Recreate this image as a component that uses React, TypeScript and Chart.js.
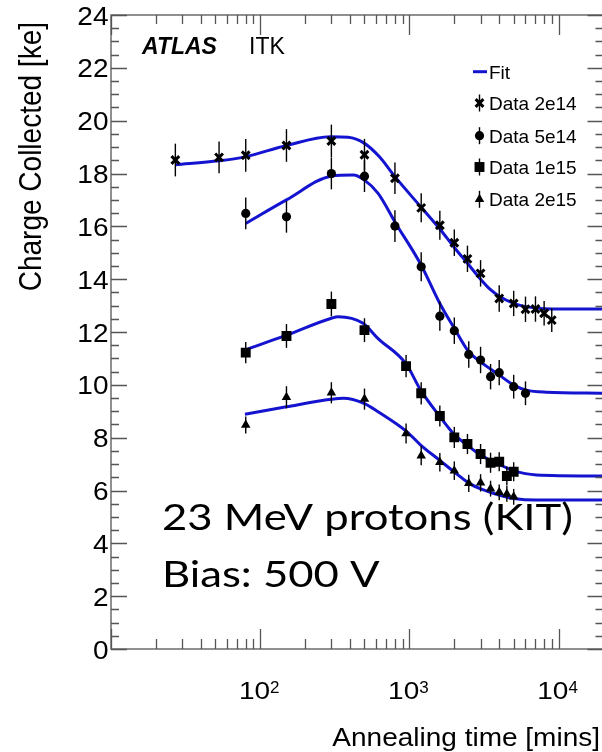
import React, { useEffect, useRef } from "react";
import { Chart, registerables } from "chart.js";

Chart.register(...registerables);

// ---- axis ranges & ticks ----
const X_MIN = 10;
const X_MAX = 20000;
const Y_MIN = 0;
const Y_MAX = 24;
const yTickLabels = [0, 2, 4, 6, 8, 10, 12, 14, 16, 18, 20, 22, 24];
const xTickValues = [100, 1000, 10000];
const xTickExponents = ["2", "3", "4"];
const xTitle = "Annealing time [mins]";
const yTitle = "Charge Collected [ke]";
const legendLabels = ["Fit", "Data 2e14", "Data 5e14", "Data 1e15", "Data 2e15"];
const noteLines = ["23 MeV protons (KIT)", "Bias: 500 V"];

// ---- data: 2e14 ----
const t2e14 = [27, 53, 80, 150, 300, 500, 800, 1200, 1600, 2000, 2450, 3000, 4000, 5000, 6000, 7000, 8000, 9000];
const q2e14 = [18.51, 18.61, 18.69, 19.06, 19.23, 18.71, 17.82, 16.7, 16.04, 15.38, 14.77, 14.22, 13.27, 13.08, 12.86, 12.87, 12.71, 12.45];
const e2e14 = [0.62, 0.6, 0.62, 0.62, 0.62, 0.6, 0.6, 0.55, 0.55, 0.5, 0.5, 0.5, 0.5, 0.48, 0.48, 0.48, 0.46, 0.45];

// ---- data: 5e14 ----
const t5e14 = [80, 150, 300, 500, 800, 1200, 1600, 2000, 2500, 3000, 3500, 4000, 5000, 6000];
const q5e14 = [16.49, 16.36, 18.0, 17.9, 16.01, 14.47, 12.6, 12.05, 11.15, 10.94, 10.31, 10.46, 9.93, 9.68];
const e5e14 = [0.6, 0.6, 0.6, 0.6, 0.6, 0.55, 0.55, 0.5, 0.5, 0.5, 0.48, 0.48, 0.45, 0.45];

// ---- data: 1e15 ----
const t1e15 = [80, 150, 300, 500, 950, 1200, 1600, 2000, 2450, 3000, 3500, 4000, 4500, 5000];
const q1e15 = [11.22, 11.85, 13.06, 12.07, 10.71, 9.68, 8.82, 8.01, 7.76, 7.38, 7.05, 7.09, 6.55, 6.71];
const e1e15 = [0.4, 0.45, 0.47, 0.45, 0.42, 0.42, 0.4, 0.4, 0.38, 0.38, 0.38, 0.36, 0.36, 0.36];

// ---- data: 2e15 ----
const t2e15 = [80, 150, 300, 500, 950, 1200, 1600, 2000, 2500, 3000, 3500, 4000, 4500, 5000];
const q2e15 = [8.48, 9.53, 9.7, 9.46, 8.16, 7.32, 7.07, 6.75, 6.27, 6.29, 6.07, 5.93, 5.87, 5.76];
const e2e15 = [0.32, 0.42, 0.4, 0.4, 0.38, 0.36, 0.35, 0.35, 0.33, 0.33, 0.3, 0.3, 0.3, 0.3];

// ---- fit curves ----
const fit2e14X = [27, 53, 79, 148, 295, 388, 500, 630, 800, 1200, 1600, 2000, 2450, 3000, 3500, 4000, 5000, 6000, 9000, 20000];
const fit2e14Y = [18.33, 18.48, 18.63, 19.05, 19.39, 19.37, 19.14, 18.63, 17.88, 16.72, 15.9, 15.2, 14.6, 14.0, 13.6, 13.35, 13.08, 12.96, 12.87, 12.87];

const fit5e14X = [80, 150, 300, 420, 500, 617, 811, 1200, 1600, 2000, 2500, 3000, 4000, 5000, 6100, 8300, 20000];
const fit5e14Y = [16.11, 17.0, 17.9, 17.94, 17.75, 17.25, 16.11, 14.53, 13.08, 12.14, 11.25, 10.87, 10.37, 9.99, 9.8, 9.72, 9.68];

const fit1e15X = [79, 150, 300, 333, 489, 617, 945, 1190, 1570, 1970, 2440, 3000, 3950, 5000, 7100, 20000];
const fit1e15Y = [11.32, 11.88, 12.52, 12.58, 12.33, 11.75, 10.81, 9.8, 8.86, 8.16, 7.72, 7.34, 7.0, 6.75, 6.59, 6.55];

const fit2e15X = [79, 150, 300, 361, 496, 617, 960, 1190, 1590, 1990, 2520, 3070, 3990, 5000, 7100, 20000];
const fit2e15Y = [8.89, 9.17, 9.45, 9.49, 9.3, 8.98, 8.23, 7.72, 7.15, 6.71, 6.27, 6.04, 5.83, 5.7, 5.64, 5.64];

const FIT_COLOR = "#1414d0";
const FRAME_COLOR = "#555555";
const FONT = '"Liberation Sans", Arial, sans-serif';

const pts = (xs: number[], ys: number[]) => xs.map((x, i) => ({ x, y: ys[i] }));

function drawText(
  ctx: CanvasRenderingContext2D,
  s: string,
  x: number,
  y: number,
  font: string,
  align: CanvasTextAlign,
  sx = 1,
  sy = 1,
  rot = 0
) {
  ctx.save();
  ctx.translate(x, y);
  if (rot) ctx.rotate(rot);
  ctx.scale(sx, sy);
  ctx.font = font;
  ctx.textAlign = align;
  ctx.textBaseline = "alphabetic";
  ctx.fillStyle = "#000";
  ctx.fillText(s, 0, 0);
  ctx.restore();
}

function drawMarker(ctx: CanvasRenderingContext2D, style: string, x: number, y: number, r: number) {
  ctx.save();
  ctx.fillStyle = "#000";
  ctx.strokeStyle = "#000";
  ctx.beginPath();
  if (style === "crossRot") {
    const d = r * Math.SQRT1_2;
    ctx.lineWidth = 3;
    ctx.moveTo(x - d, y - d);
    ctx.lineTo(x + d, y + d);
    ctx.moveTo(x + d, y - d);
    ctx.lineTo(x - d, y + d);
    ctx.stroke();
  } else if (style === "circle") {
    ctx.arc(x, y, r, 0, Math.PI * 2);
    ctx.fill();
  } else if (style === "rect") {
    const s = r * Math.SQRT1_2;
    ctx.fillRect(x - s, y - s, 2 * s, 2 * s);
  } else if (style === "triangle") {
    ctx.moveTo(x, y - r);
    ctx.lineTo(x + r * Math.sin(Math.PI * 2 / 3), y - r * Math.cos(Math.PI * 2 / 3));
    ctx.lineTo(x + r * Math.sin(Math.PI * 4 / 3), y - r * Math.cos(Math.PI * 4 / 3));
    ctx.closePath();
    ctx.fill();
  }
  ctx.restore();
}

const decorPlugin = {
  id: "rootDecor",
  beforeDatasetDraw(chart: any, args: any) {
    const ds = chart.data.datasets[args.index];
    if (!ds.errors) return;
    const ctx = chart.ctx;
    const xs = chart.scales.x;
    const ys = chart.scales.y;
    ctx.save();
    ctx.strokeStyle = "#000";
    ctx.lineWidth = 1.4;
    ds.data.forEach((p: any, i: number) => {
      const px = xs.getPixelForValue(p.x);
      const e = ds.errors[i];
      ctx.beginPath();
      ctx.moveTo(px, ys.getPixelForValue(p.y - e));
      ctx.lineTo(px, ys.getPixelForValue(p.y + e));
      ctx.stroke();
    });
    ctx.restore();
  },
  afterDraw(chart: any) {
    const ctx: CanvasRenderingContext2D = chart.ctx;
    const { left, right, top, bottom } = chart.chartArea;
    const xs = chart.scales.x;
    const ys = chart.scales.y;

    // frame
    ctx.save();
    ctx.strokeStyle = FRAME_COLOR;
    ctx.lineWidth = 1.3;
    ctx.strokeRect(left, top, right - left, bottom - top);

    // y ticks
    ctx.beginPath();
    for (let v = Y_MIN; v <= Y_MAX + 1e-9; v += 0.5) {
      const py = Math.round(ys.getPixelForValue(v)) + 0.5;
      const major = Math.abs(v / 2 - Math.round(v / 2)) < 1e-6;
      const len = major ? 16 : 8;
      ctx.moveTo(left, py);
      ctx.lineTo(left + len, py);
      ctx.moveTo(right, py);
      ctx.lineTo(right - len, py);
    }
    // x ticks (log)
    for (let dec = 10; dec <= 10000; dec *= 10) {
      for (let k = 1; k <= 9; k++) {
        const v = k * dec;
        if (v < X_MIN || v > X_MAX) continue;
        const px = Math.round(xs.getPixelForValue(v)) + 0.5;
        const major = k === 1;
        ctx.moveTo(px, bottom);
        ctx.lineTo(px, bottom - (major ? 20 : 10));
        ctx.moveTo(px, top);
        ctx.lineTo(px, top + (major ? 20 : 9));
      }
    }
    ctx.stroke();
    ctx.restore();

    // y tick labels
    const fLab = `28px ${FONT}`;
    yTickLabels.forEach((v) => {
      const py = ys.getPixelForValue(v);
      drawText(ctx, String(v), 108.5, py + 9.5, fLab, "right", 1, 0.916);
    });

    // x tick labels 10^n
    xTickValues.forEach((v, i) => {
      const px = xs.getPixelForValue(v);
      ctx.font = fLab;
      const w1 = ctx.measureText("10").width;
      const fSup = `17px ${FONT}`;
      ctx.font = fSup;
      const w2 = ctx.measureText(xTickExponents[i]).width;
      const x0 = px - (w1 + w2) / 2 - 1;
      drawText(ctx, "10", x0, 699, fLab, "left", 1, 0.88);
      drawText(ctx, xTickExponents[i], x0 + w1, 692.5, fSup, "left", 1, 0.92);
    });

    // axis titles
    drawText(ctx, xTitle, 600, 746, `28px ${FONT}`, "right", 1, 0.916);
    drawText(ctx, yTitle, 40.5, 22, `28px ${FONT}`, "right", 1.0, 1.1, -Math.PI / 2);

    // ATLAS ITK
    drawText(ctx, "ATLAS", 142, 54, `italic bold 23px ${FONT}`, "left");
    drawText(ctx, "ITK", 249, 54, `23px ${FONT}`, "left");

    // legend
    const lx = 479.5;
    const tx = 489;
    const rows = [71.7, 103, 135.7, 167, 199.3];
    ctx.save();
    ctx.strokeStyle = FIT_COLOR;
    ctx.lineWidth = 3;
    ctx.beginPath();
    ctx.moveTo(473, rows[0]);
    ctx.lineTo(487, rows[0]);
    ctx.stroke();
    ctx.restore();
    const styles = ["crossRot", "circle", "rect", "triangle"];
    const radii = [5.5, 4.6, 7, 5.5];
    for (let i = 1; i < 5; i++) {
      ctx.save();
      ctx.strokeStyle = "#000";
      ctx.lineWidth = 1.4;
      ctx.beginPath();
      ctx.moveTo(lx, rows[i] - 8.5);
      ctx.lineTo(lx, rows[i] + 8.5);
      ctx.stroke();
      ctx.restore();
      drawMarker(ctx, styles[i - 1], lx, rows[i], radii[i - 1]);
    }
    legendLabels.forEach((s, i) => {
      drawText(ctx, s, tx, rows[i] + 7, `19px ${FONT}`, "left");
    });

    // annotation text (Calibri-like)
    const fNote = `37px Lato, "Open Sans", sans-serif`;
    ctx.font = fNote;
    const w = ctx.measureText(noteLines[0]).width;
    const sx = 411 / w;
    drawText(ctx, noteLines[0], 162, 530, fNote, "left", sx, 1);
    drawText(ctx, noteLines[1], 162, 587, fNote, "left", sx, 1);
  },
};

export default function App() {
  const ref = useRef<HTMLCanvasElement | null>(null);

  useEffect(() => {
    if (!ref.current) return;
    const fitDs = (xs: number[], ys: number[]) => ({
      type: "line" as const,
      data: pts(xs, ys),
      borderColor: FIT_COLOR,
      borderWidth: 3,
      pointRadius: 0,
      showLine: true,
      fill: false,
      cubicInterpolationMode: "monotone" as const,
      order: 2,
    });
    const dataDs = (xs: number[], ys: number[], errs: number[], style: string, r: number, bw: number) => ({
      type: "line" as const,
      data: pts(xs, ys),
      errors: errs,
      showLine: false,
      pointStyle: style,
      pointRadius: r,
      pointBorderWidth: bw,
      pointBackgroundColor: "#000",
      pointBorderColor: "#000",
      order: 1,
    });

    const chart = new Chart(ref.current, {
      type: "line",
      data: {
        datasets: [
          fitDs(fit2e14X, fit2e14Y),
          fitDs(fit5e14X, fit5e14Y),
          fitDs(fit1e15X, fit1e15Y),
          fitDs(fit2e15X, fit2e15Y),
          dataDs(t2e14, q2e14, e2e14, "crossRot", 5.5, 3),
          dataDs(t5e14, q5e14, e5e14, "circle", 4.6, 0),
          dataDs(t1e15, q1e15, e1e15, "rect", 7, 0),
          dataDs(t2e15, q2e15, e2e15, "triangle", 5.5, 0),
        ] as any,
      },
      options: {
        responsive: false,
        maintainAspectRatio: false,
        animation: false,
        layout: { padding: { left: 111, right: 5, top: 15, bottom: 103 } },
        plugins: { legend: { display: false }, tooltip: { enabled: false } },
        scales: {
          x: { type: "logarithmic", min: X_MIN, max: X_MAX, display: false },
          y: { type: "linear", min: Y_MIN, max: Y_MAX, display: false },
        },
      },
      plugins: [decorPlugin],
    });
    return () => chart.destroy();
  }, []);

  return (
    <div
      style={{
        position: "absolute",
        left: 0,
        top: 0,
        width: 602,
        height: 752,
        overflow: "hidden",
        background: "#fff",
      }}
    >
      <canvas ref={ref} width={612} height={752} style={{ display: "block", width: 612, height: 752 }} />
    </div>
  );
}
